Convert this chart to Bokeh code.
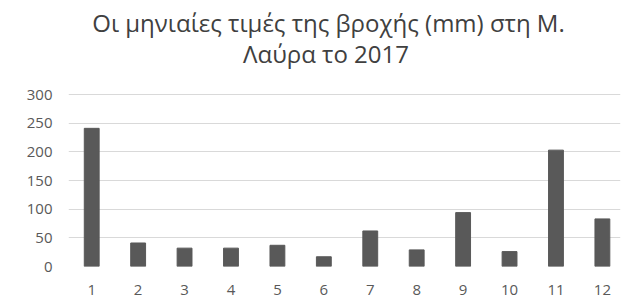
from bokeh.plotting import figure
from bokeh.models import Label, FixedTicker, Range1d
from bokeh.embed import file_html
from bokeh.resources import INLINE

months = [1, 2, 3, 4, 5, 6, 7, 8, 9, 10, 11, 12]
rain = [241, 41, 32, 32, 37, 17, 62, 29, 94, 26, 203, 83]
y_ticks = [0, 50, 100, 150, 200, 250, 300]
title_line1 = "Οι μηνιαίες τιμές της βροχής (mm) στη Μ."
title_line2 = "Λαύρα το 2017"

FONT = "Open Sans"
TXT = "#595959"

# frame spans the full canvas height; the y range is extended so that the
# 0..300 gridded area sits where the reference has it, leaving room for the title
p = figure(width=621, height=298, output_backend="svg", toolbar_location=None,
           x_range=Range1d(0.5, 12.39), y_range=Range1d(0, 464),
           min_border_left=68, min_border_right=1, min_border_top=0, min_border_bottom=32)
p.outline_line_color = None
p.background_fill_color = "white"
p.border_fill_color = "white"

p.vbar(x=months, top=rain, width=0.32, fill_color="#595959", line_color="#595959")

p.xaxis.ticker = FixedTicker(ticks=months)
p.yaxis.ticker = FixedTicker(ticks=y_ticks)
for ax in (p.xaxis[0], p.yaxis[0]):
    ax.axis_line_color = None
    ax.major_tick_line_color = None
    ax.minor_tick_line_color = None
    ax.major_label_text_font = FONT
    ax.major_label_text_color = TXT
    ax.major_label_text_font_size = "15px"
p.xaxis.major_label_standoff = 12
p.yaxis.major_label_standoff = 10
p.xgrid.grid_line_color = None
p.ygrid.grid_line_color = "#d9d9d9"
p.ygrid.grid_line_width = 1

for txt, xx, yy in ((title_line1, 260, 244), (title_line2, 257.5, 213)):
    p.add_layout(Label(x=xx, y=yy, x_units="screen", y_units="screen", text=txt,
                       text_align="center", text_baseline="alphabetic",
                       text_font=FONT, text_font_size="24px", text_color="#404040"))

open("out.html", "w").write(file_html(p, INLINE))
